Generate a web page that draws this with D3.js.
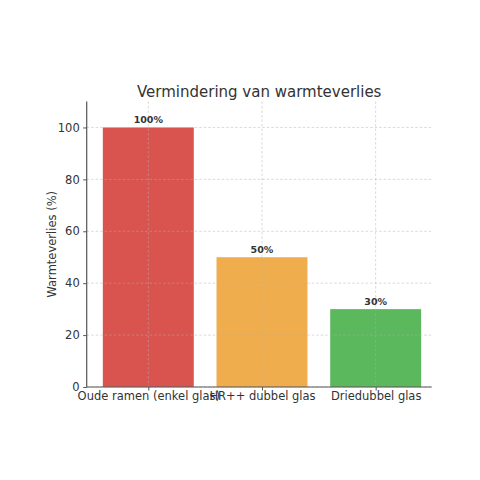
<!DOCTYPE html>
<html>
<head>
<meta charset="utf-8">
<script src="https://cdn.jsdelivr.net/npm/d3@7"></script>
<style>
body { margin: 0; background: #fff; }
svg { display: block; font-family: "DejaVu Sans", sans-serif; }
</style>
</head>
<body>
<div id="chart"></div>
<script>
// data
var categories = ["Oude ramen (enkel glas)", "HR++ dubbel glas", "Driedubbel glas"];
var values = [100, 50, 30];
var barColors = ["#d9534f", "#f0ad4e", "#5cb85c"];
var yTicks = [0, 20, 40, 60, 80, 100];

var W = 480, H = 480;
var mLeft = 86.7, mRight = 431.7, mTop = 101.5, mBottom = 387;

var svg = d3.select("#chart").append("svg")
  .attr("width", W).attr("height", H);

var x = d3.scaleLinear().domain([-0.542, 2.493]).range([mLeft, mRight]);
var y = d3.scaleLinear().domain([0, 110]).range([mBottom, mTop]);
var bw = x(0.4) - x(-0.4);

// bars
svg.selectAll("rect.bar")
  .data(values)
  .enter().append("rect")
  .attr("class", "bar")
  .attr("x", (d, i) => x(i) - bw / 2)
  .attr("y", d => y(d))
  .attr("width", bw)
  .attr("height", d => y(0) - y(d))
  .attr("fill", (d, i) => barColors[i]);

// grid on top
var grid = svg.append("g").attr("stroke", "#b0b0b0").attr("stroke-opacity", 0.6)
  .attr("stroke-width", 0.8).attr("stroke-dasharray", "2.5,2");
grid.selectAll("line.h").data(yTicks).enter().append("line")
  .attr("x1", mLeft).attr("x2", mRight)
  .attr("y1", d => y(d)).attr("y2", d => y(d));
grid.selectAll("line.v").data(categories).enter().append("line")
  .attr("x1", (d, i) => x(i)).attr("x2", (d, i) => x(i))
  .attr("y1", mTop).attr("y2", mBottom);

// axes
var yAxis = d3.axisLeft(y).tickValues(yTicks).tickSize(3.5).tickPadding(3.5);
var gy = svg.append("g").attr("transform", "translate(" + mLeft + ",0)").call(yAxis);
gy.select(".domain").attr("d", "M0," + mTop + "V" + mBottom);

var xAxis = d3.axisBottom(x).tickValues([0, 1, 2]).tickFormat((d) => categories[d])
  .tickSize(3.5).tickPadding(1.5);
var gx = svg.append("g").attr("transform", "translate(0," + mBottom + ")").call(xAxis);
gx.select(".domain").attr("d", "M" + mLeft + ",0H" + mRight);

svg.selectAll(".domain").attr("stroke", "#555").attr("stroke-width", 1.2);
svg.selectAll(".tick line").attr("stroke", "#555").attr("stroke-width", 1);
svg.selectAll(".tick text").attr("fill", "#333").style("font-size", "11.5px")
  .style("font-family", "DejaVu Sans");

// value labels
svg.selectAll("text.val")
  .data(values)
  .enter().append("text")
  .attr("class", "val")
  .attr("x", (d, i) => x(i))
  .attr("y", d => y(d) - 4.5)
  .attr("text-anchor", "middle")
  .attr("fill", "#333")
  .style("font-size", "9.5px")
  .style("font-weight", "bold")
  .text(d => d + "%");

// title
svg.append("text")
  .attr("x", (mLeft + mRight) / 2).attr("y", 97)
  .attr("text-anchor", "middle")
  .attr("fill", "#333")
  .style("font-size", "15px")
  .text("Vermindering van warmteverlies");

// y label
svg.append("text")
  .attr("transform", "translate(56," + ((mTop + mBottom) / 2) + ") rotate(-90)")
  .attr("text-anchor", "middle")
  .attr("fill", "#333")
  .style("font-size", "11.5px")
  .text("Warmteverlies (%)");
</script>
</body>
</html>
